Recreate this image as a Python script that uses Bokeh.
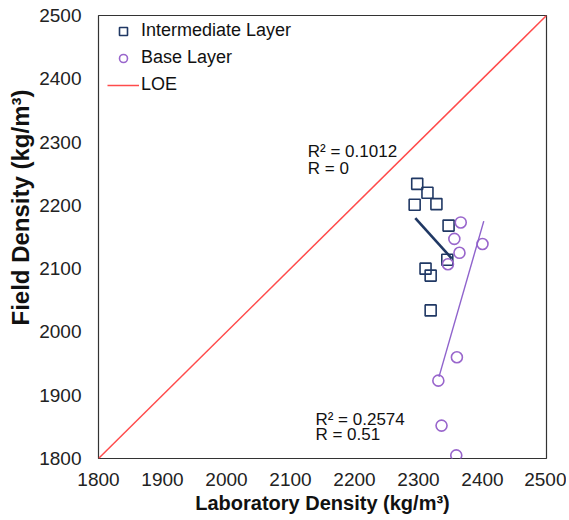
from bokeh.plotting import figure
from bokeh.models import Range1d, Label, Legend, LegendItem, FixedTicker, Title
from bokeh.embed import file_html
from bokeh.resources import INLINE

# ---- data ----
int_x = [2298, 2314, 2328, 2294, 2347, 2345, 2311, 2319, 2319]
int_y = [2234, 2220, 2202, 2201, 2168, 2114, 2100, 2089, 2034]
base_x = [2366, 2356, 2364, 2346, 2400, 2360, 2331, 2336, 2359]
base_y = [2173, 2147, 2125, 2107, 2139, 1960, 1923, 1852, 1805]
int_trend_x = [2295, 2352]
int_trend_y = [2180, 2116]
base_trend_x = [2332, 2402]
base_trend_y = [1929, 2175]
loe_x = [1800, 2500]
loe_y = [1800, 2500]
ticks = [1800, 1900, 2000, 2100, 2200, 2300, 2400, 2500]

FONT = "Liberation Sans"
NAVY = "#203864"
PURPLE = "#9966CC"
RED = "#FF4B4B"

p = figure(frame_width=448, frame_height=443,
           min_border_left=98, min_border_top=15, min_border_right=20, min_border_bottom=58,
           x_range=Range1d(1800, 2500), y_range=Range1d(1800, 2500),
           output_backend="svg", toolbar_location=None)

p.background_fill_color = "white"
p.border_fill_color = "white"
p.outline_line_color = "#333333"
p.outline_line_width = 1.2
p.xgrid.visible = False
p.ygrid.visible = False

for ax in (p.xaxis[0], p.yaxis[0]):
    ax.ticker = FixedTicker(ticks=ticks)
    ax.axis_line_color = None
    ax.major_tick_line_color = None
    ax.minor_tick_line_color = None
    ax.major_tick_in = 0
    ax.major_tick_out = 0
    ax.major_label_text_font = FONT
    ax.major_label_text_font_size = "19px"
    ax.major_label_text_color = "#222222"

p.xaxis.major_label_standoff = 14
p.yaxis.major_label_standoff = 17

p.xaxis.axis_label = "Laboratory Density (kg/m³)"
p.xaxis.axis_label_text_font = FONT
p.xaxis.axis_label_text_font_size = "20px"
p.xaxis.axis_label_text_font_style = "bold"
p.xaxis.axis_label_text_color = "#111111"
p.xaxis.axis_label_standoff = 3

# y axis title as a side title (it sits above the frame centre in the reference)
ytitle = Title(text="Field Density (kg/m³)", align="left", offset=133,
               text_font=FONT, text_font_size="24px", text_font_style="bold",
               text_color="#111111", standoff=6)
p.add_layout(ytitle, "left")

loe = p.line(loe_x, loe_y, line_color=RED, line_width=1.5)
sq = p.scatter(int_x, int_y, marker="square", size=11, fill_color=None,
               line_color=NAVY, line_width=1.6)
ci = p.scatter(base_x, base_y, marker="circle", size=11, fill_color=None,
               line_color=PURPLE, line_width=1.6)
p.line(int_trend_x, int_trend_y, line_color=NAVY, line_width=2.6)
p.line(base_trend_x, base_trend_y, line_color="#8F63CC", line_width=1.4)

ann = [("R² = 0.1012", 2127, 2285), ("R = 0", 2127, 2259),
       ("R² = 0.2574", 2139, 1862), ("R = 0.51", 2139, 1838)]
for t, x, y in ann:
    p.add_layout(Label(x=x, y=y, text=t, text_font=FONT, text_font_size="17px",
                       text_color="#111111", text_align="left", text_baseline="middle"))

legend = Legend(items=[LegendItem(label="Intermediate Layer", renderers=[sq]),
                       LegendItem(label="Base Layer", renderers=[ci]),
                       LegendItem(label="LOE", renderers=[loe])],
                location=(9, 363))
legend.border_line_color = None
legend.background_fill_alpha = 0
legend.margin = 0
legend.padding = 4
legend.spacing = 6
legend.glyph_width = 32
legend.glyph_height = 20
legend.label_height = 20
legend.label_standoff = 2
legend.label_text_font = FONT
legend.label_text_font_size = "18px"
legend.label_text_color = "#111111"
legend.label_text_baseline = "middle"
p.add_layout(legend, "center")

open("out.html", "w").write(file_html(p, INLINE))
